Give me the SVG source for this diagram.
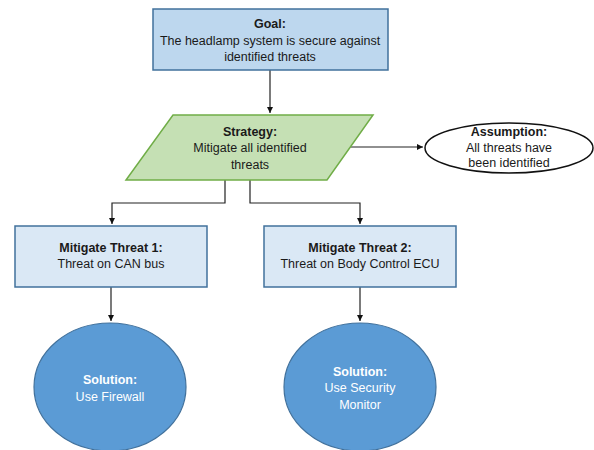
<svg xmlns="http://www.w3.org/2000/svg" width="594" height="450" viewBox="0 0 594 450">
<style>
text{font-family:"Liberation Sans",Arial,sans-serif;font-size:12.5px;text-anchor:middle;fill:#1a1a1a}
.b{font-weight:bold}
.w{fill:#ffffff}
.con{fill:none;stroke:#222;stroke-width:1.2}
</style>
<defs>
<marker id="ah" markerWidth="8" markerHeight="8" refX="6" refY="3" orient="auto" markerUnits="userSpaceOnUse">
<path d="M0,0 L6,3 L0,6 z" fill="#111"/>
</marker>
</defs>
<rect width="594" height="450" fill="#fff"/>
<g id="connectors">
<path class="con" d="M270,70 V113" marker-end="url(#ah)"/>
<path class="con" d="M350,147 H423" marker-end="url(#ah)"/>
<path class="con" d="M225,180 V203 H112 V224" marker-end="url(#ah)"/>
<path class="con" d="M250,180 V203 H360 V224" marker-end="url(#ah)"/>
<path class="con" d="M111,287 V321" marker-end="url(#ah)"/>
<path class="con" d="M360,287 V321" marker-end="url(#ah)"/>
</g>
<g id="goal">
<rect x="153" y="9" width="235" height="61" fill="#BDD7EE" stroke="#41719C" stroke-width="1.5"/>
<text x="270" y="28" class="b">Goal:</text>
<text x="270" y="45">The headlamp system is secure against</text>
<text x="270" y="61">identified threats</text>
</g>
<g id="strategy">
<polygon points="173,115 373,115 327,180 126,180" fill="#C5E0B4" stroke="#70AD47" stroke-width="1.5"/>
<text x="250" y="136" class="b">Strategy:</text>
<text x="250" y="152">Mitigate all identified</text>
<text x="250" y="169">threats</text>
</g>
<g id="assumption">
<ellipse cx="509" cy="148" rx="84" ry="25" fill="#fff" stroke="#111" stroke-width="1.5"/>
<text x="509" y="136" class="b">Assumption:</text>
<text x="509" y="152">All threats have</text>
<text x="509" y="167">been identified</text>
</g>
<g id="threat1">
<rect x="15" y="226" width="192" height="61" fill="#DAE8F5" stroke="#41719C" stroke-width="1.5"/>
<text x="111" y="252" class="b">Mitigate Threat 1:</text>
<text x="111" y="268">Threat on CAN bus</text>
</g>
<g id="threat2">
<rect x="264" y="226" width="192" height="61" fill="#DAE8F5" stroke="#41719C" stroke-width="1.5"/>
<text x="360" y="252" class="b">Mitigate Threat 2:</text>
<text x="360" y="268">Threat on Body Control ECU</text>
</g>
<g id="solution1">
<ellipse cx="110" cy="387" rx="76" ry="64" fill="#5B9BD5" stroke="#41719C" stroke-width="1.2"/>
<text x="110" y="384" class="b w">Solution:</text>
<text x="110" y="401" class="w">Use Firewall</text>
</g>
<g id="solution2">
<ellipse cx="360" cy="387" rx="76" ry="64" fill="#5B9BD5" stroke="#41719C" stroke-width="1.2"/>
<text x="360" y="376" class="b w">Solution:</text>
<text x="360" y="392" class="w">Use Security</text>
<text x="360" y="409" class="w">Monitor</text>
</g>
</svg>
